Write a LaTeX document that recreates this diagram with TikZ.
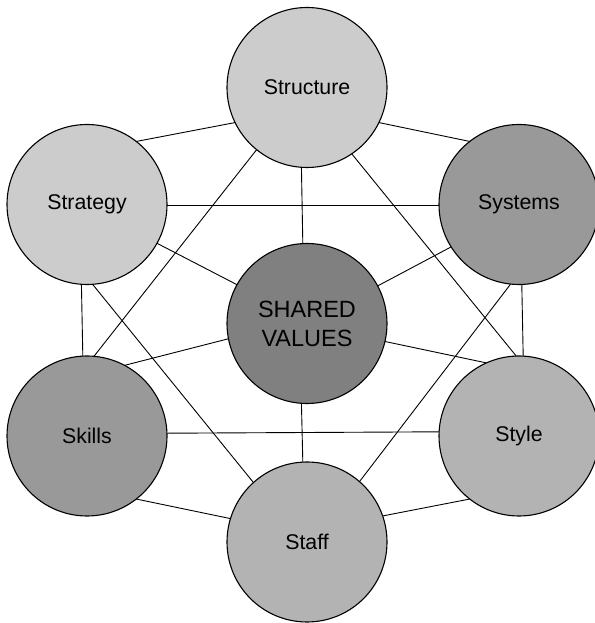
\documentclass[tikz,border=0pt]{standalone}
\usepackage{fontspec}
\setmainfont{Liberation Sans}
\pgfdeclarelayer{bg}
\pgfsetlayers{bg,main}
\definecolor{cLight}{HTML}{CCCCCC}
\definecolor{cMid}{HTML}{B3B3B3}
\definecolor{cDark}{HTML}{999999}
\definecolor{cCore}{HTML}{808080}
\begin{document}
\begin{tikzpicture}[x=1pt,y=1pt,
  sball/.style={circle, draw=black, line width=1.1pt, minimum size=160pt, inner sep=0pt, outer sep=0pt,
    font=\fontsize{21.3}{29}\selectfont, align=center},
  link/.style={draw=black, line width=0.9pt}]
\useasboundingbox (0,0) rectangle (594,623);
\node[sball, fill=cLight] (structure) at (307,535.5) {Structure};
\node[sball, fill=cLight] (strategy) at (87,418.5) {Strategy};
\node[sball, fill=cDark] (systems) at (519,418.5) {Systems};
\node[sball, fill=cCore, font=\fontsize{23.5}{29}\selectfont] (shared) at (307,299.5) {SHARED\\VALUES};
\node[sball, fill=cDark] (skills) at (87,187) {Skills};
\node[sball, fill=cMid] (style) at (519,187) {Style};
\node[sball, fill=cMid] (staff) at (307,81) {Staff};
\begin{pgfonlayer}{bg}
\path[link] (structure.206) -- (strategy.52);
\path[link] (structure.334) -- (systems.128);
\path[link] (structure.266.4) -- (shared.93.6);
\path[link] (structure.231.4) -- (skills.85.3);
\path[link] (structure.304.7) -- (style.92);
\path[link] (strategy.-1.6) -- (systems.181.6);
\path[link] (strategy.331.4) -- (shared.151.7);
\path[link] (strategy.266.3) -- (skills.93.7);
\path[link] (strategy.274) -- (staff.132.9);
\path[link] (systems.212.7) -- (shared.28.6);
\path[link] (systems.272.6) -- (style.87.4);
\path[link] (systems.264.7) -- (staff.49.1);
\path[link] (shared.191.2) -- (skills.62.5);
\path[link] (shared.347.8) -- (style.114.1);
\path[link] (shared.266.4) -- (staff.93.6);
\path[link] (skills.2.6) -- (style.177.4);
\path[link] (skills.308.7) -- (staff.163.2);
\path[link] (style.232.4) -- (staff.19.4);
\end{pgfonlayer}
\end{tikzpicture}
\end{document}
